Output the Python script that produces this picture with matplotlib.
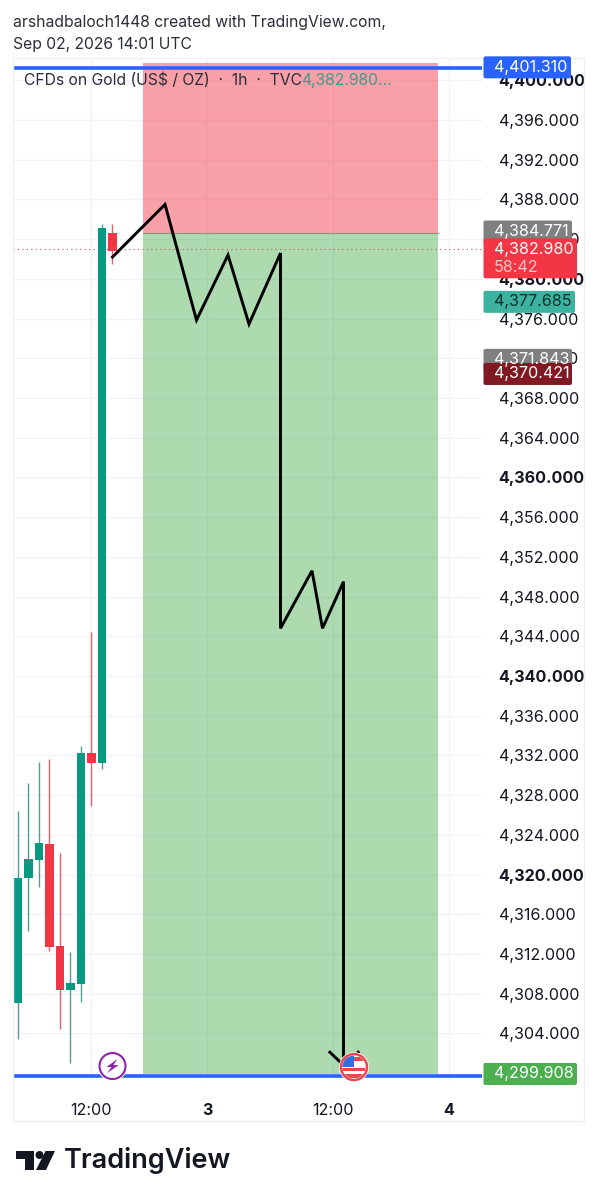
import matplotlib
matplotlib.use("Agg")
import matplotlib.pyplot as plt
from matplotlib.patches import Circle, FancyBboxPatch, Polygon, Rectangle

plt.rcParams['font.family'] = ['Inter', 'DejaVu Sans']

W, H = 598, 1200

# candles, one per hour, bar 0 is the 12:00 bar
bars = [-7, -6, -5, -4, -3, -2, -1, 0, 1, 2]
opens = [4307.1, 4319.6, 4321.5, 4323.1, 4312.8, 4308.4, 4309.0, 4332.2, 4331.2, 4384.6]
highs = [4326.4, 4329.2, 4331.3, 4331.6, 4322.2, 4312.2, 4332.9, 4344.4, 4385.5, 4385.5]
lows = [4303.4, 4314.3, 4318.7, 4312.3, 4304.4, 4301.0, 4307.2, 4326.9, 4330.6, 4381.5]
closes = [4319.6, 4321.6, 4323.2, 4312.7, 4308.4, 4309.1, 4332.2, 4331.2, 4385.1, 4382.8]

# hand drawn path
path_x = [2, 7, 10, 13, 15, 18, 18, 21, 22, 24, 24]
path_y = [4382.2, 4387.5, 4375.85, 4382.4, 4375.45, 4382.6, 4344.8, 4350.6, 4344.8, 4349.5, 4300.8]
arrow_x = [22.7, 24, 25.4]
arrow_y = [4302.1, 4300.8, 4302.1]

# position tool
zone_left, zone_right = 4.95, 33
stop_price, entry_price, target_price = 4401.7, 4384.6, 4299.9
top_line, bottom_line = 4401.27, 4299.7
last_price = 4382.98

price_ticks = list(range(4304, 4404, 4))
time_ticks = [0, 11, 23, 34]
time_labels = ['12:00', '3', '12:00', '4']

# price scale tags: price, text, colour, text colour
tags = [
    (4401.31, '4,401.310', '#2962ff', '#ffffff'),
    (4384.771, '4,384.771', '#808080', '#ffffff'),
    (4377.685, '4,377.685', '#3bb3a0', '#0c2f2a'),
    (4371.843, '4,371.843', '#808080', '#ffffff'),
    (4370.421, '4,370.421', '#801922', '#ffffff'),
    (4299.908, '4,299.908', '#4caf50', '#ffffff'),
]
tag_right = [571, 572, 575, 572, 572, 577]

fig = plt.figure(figsize=(W / 100, H / 100), dpi=100)
ax = fig.add_axes([13 / W, 1 - 1081 / H, 469 / W, 1023 / H])
ax.set_xlim(-7.476, 37.19)
ax.set_ylim(4299.2, 4402.25)
ax.set_axisbelow(True)
ax.grid(True, color='#f0f3fa', lw=1)
for s in ax.spines.values():
    s.set_visible(False)

ax.set_xticks(time_ticks)
ax.set_xticklabels(time_labels, fontsize=11.6, color='#131722')
for lab, t in zip(ax.get_xticklabels(), time_labels):
    if len(t) == 1:
        lab.set_fontweight('bold')
ax.tick_params(axis='x', length=0, pad=16)

ax.yaxis.tick_right()
ax.set_yticks(price_ticks)
ax.set_yticklabels([f'{p:,}.000' for p in price_ticks], fontsize=11.6, color='#131722')
for lab, p in zip(ax.get_yticklabels(), price_ticks):
    if p % 20 == 0:
        lab.set_fontweight('bold')
ax.tick_params(axis='y', length=0, pad=12)

# zones
ax.axhspan(entry_price, stop_price, xmin=(zone_left + 7.476) / 44.666, xmax=(zone_right + 7.476) / 44.666,
           color='#f23645', alpha=0.47, lw=0, zorder=1)
ax.axhspan(target_price, entry_price, xmin=(zone_left + 7.476) / 44.666, xmax=(zone_right + 7.476) / 44.666,
           color='#4caf50', alpha=0.46, lw=0, zorder=1)
ax.plot([zone_left, zone_right], [entry_price, entry_price], color='#7f9a80', lw=0.8, zorder=2)

ax.axhline(last_price, color='#c4505c', lw=0.8, ls=(0, (1, 3)), zorder=2)

# candles
for b, o, h, l, c in zip(bars, opens, highs, lows, closes):
    up = c >= o
    ax.vlines(b, l, h, color='#4f9e90' if up else '#e0606c', lw=1.0, zorder=3)
    ax.bar(b, abs(c - o), bottom=min(o, c), width=0.78, color='#089981' if up else '#f23645', lw=0, zorder=4)

ax.axhline(top_line, color='#2962ff', lw=2.6, zorder=5)
ax.axhline(bottom_line, color='#2962ff', lw=2.6, zorder=5)

ax.plot(path_x, path_y, color='black', lw=2.1, zorder=6, solid_joinstyle='miter')
ax.plot(arrow_x, arrow_y, color='black', lw=2.1, zorder=6)

# overlay in pixels for tags, frame, header and logo
ov = fig.add_axes([0, 0, 1, 1], zorder=10)
ov.set_xlim(0, W)
ov.set_ylim(H, 0)
ov.axis('off')


def ypx(p):
    return H - ax.transData.transform((0, p))[1]


def xpx(b):
    return ax.transData.transform((b, 0))[0]


def tag(x0, x1, y0, y1, col):
    ov.add_patch(FancyBboxPatch((x0 + 2, y0 + 2), x1 - x0 - 4, y1 - y0 - 4,
                                boxstyle='round,pad=2,rounding_size=2', fc=col, ec='none', zorder=3))


ov.add_patch(Rectangle((13, 58), 571, 1063, fc='none', ec='#eef0f5', lw=1))

for (p, txt, col, tc), xr in zip(tags, tag_right):
    y = ypx(p)
    tag(483.5, xr, y - 11, y + 11, col)
    ov.text(494, y, txt, color=tc, fontsize=11.6, va='center', ha='left', zorder=4)

y = ypx(last_price)
tag(483.5, 577, y - 11, y + 29, '#f23645')
ov.text(494, y, '4,382.980', color='white', fontsize=11.6, va='center', zorder=4)
ov.text(494, y + 18.5, '58:42', color='#fbc4c9', fontsize=11.6, va='center', zorder=4)

# header
ov.text(13, 22, 'arshadbaloch1448 created with TradingView.com,', fontsize=11.3, color='#2a2e39', va='center')
ov.text(13, 44, 'Sep 02, 2026 14:01 UTC', fontsize=11.3, color='#2a2e39', va='center')

# legend line
ov.text(24, 80, 'CFDs on Gold (US$ / OZ)  ·  1h  ·  TVC', fontsize=11.3, color='#2a2e39', va='center')
ov.text(301, 80, '4,382.980...', fontsize=11.3, color='#3d9c8a', va='center')

# event icons on the time line
cx, cy = xpx(2), ypx(bottom_line) - 10
ov.add_patch(Circle((cx, cy), 15, fc='white', ec='none', zorder=5))
ov.add_patch(Circle((cx, cy), 13, fc='white', ec='#8e24aa', lw=1.5, zorder=6))
ov.add_patch(Polygon([(cx + 5, cy - 7), (cx - 6, cy + 1), (cx - 1, cy + 1), (cx - 5, cy + 7),
                      (cx + 6, cy - 1), (cx + 1, cy - 1)], fc='#8e24aa', ec='none', zorder=7))

cx, cy = xpx(25), ypx(bottom_line) - 9
ov.add_patch(Circle((cx, cy), 15, fc='white', ec='none', zorder=5))
ring = Circle((cx, cy), 11.5, fc='white', ec='none', zorder=6)
ov.add_patch(ring)
for dy, col, hgt in [(-10, '#e84850', 4), (1, '#e84850', 3.4), (7, '#e84850', 4)]:
    r = Rectangle((cx - 12, cy + dy), 24, hgt, fc=col, ec='none', zorder=7)
    ov.add_patch(r)
    r.set_clip_path(ring)
canton = Rectangle((cx - 12, cy - 12), 12, 12, fc='#2f6fe0', ec='none', zorder=8)
ov.add_patch(canton)
canton.set_clip_path(ring)
ov.add_patch(Circle((cx, cy), 13, fc='none', ec='#e84850', lw=1.8, zorder=9))

# logo
ov.add_patch(Polygon([(16, 1151), (33.5, 1151), (33.5, 1170), (25, 1170), (25, 1159), (16, 1159)], fc='#131722', ec='none'))
ov.add_patch(Circle((39.5, 1155), 4, fc='#131722', ec='none'))
ov.add_patch(Polygon([(45.5, 1151), (55, 1151), (46, 1170), (36, 1170)], fc='#131722', ec='none'))
ov.text(64, 1161, 'TradingView', fontsize=19.5, fontweight='semibold', color='#131722', va='center')

fig.savefig('out.png', dpi=100)
